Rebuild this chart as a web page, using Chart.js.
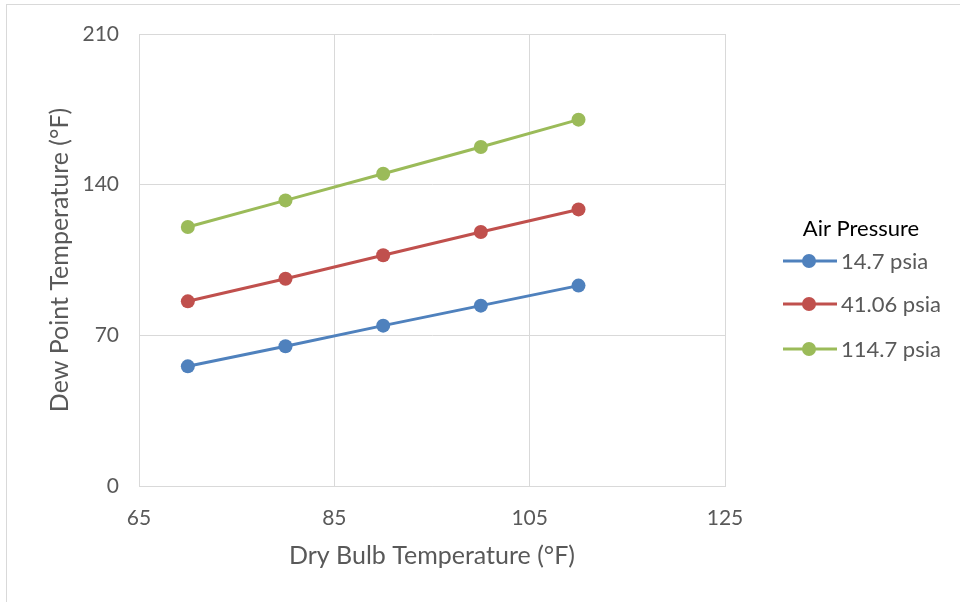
<!DOCTYPE html>
<html>
<head>
<meta charset="utf-8">
<script src="https://cdn.jsdelivr.net/npm/chart.js@4/dist/chart.umd.min.js"></script>
<style>
  body { margin: 0; background: #fff; }
  canvas { display: block; }
</style>
</head>
<body>
<canvas id="dewChart" width="960" height="602"></canvas>
<script>
// dry bulb temperatures (°F)
const dryBulb = [70, 80, 90, 100, 110];
// dew point temperatures (°F) per air pressure
const dew147 = [55.6, 64.9, 74.5, 83.8, 93.1];
const dew4106 = [85.8, 96.3, 107.2, 118.0, 128.5];
const dew1147 = [120.3, 132.7, 145.1, 157.5, 170.2];
const seriesNames = ['14.7 psia', '41.06 psia', '114.7 psia'];
const seriesColors = ['#4F81BD', '#C0504D', '#9BBB59'];
const legendTitle = 'Air Pressure';
const xTitle = 'Dry Bulb Temperature (°F)';
const yTitle = 'Dew Point Temperature (°F)';

const FONT = 'Lato';

function toPoints(ys) {
    return dryBulb.map((x, i) => ({ x: x, y: ys[i] }));
}

const datasets = [dew147, dew4106, dew1147].map((ys, i) => ({
    label: seriesNames[i],
    data: toPoints(ys),
    showLine: true,
    borderColor: seriesColors[i],
    backgroundColor: seriesColors[i],
    borderWidth: 3,
    pointRadius: 7,
    pointBorderWidth: 0,
    pointBackgroundColor: seriesColors[i]
}));

// white background + outer frame
const frame = {
    id: 'frame',
    beforeDraw(chart) {
        const ctx = chart.ctx;
        ctx.save();
        ctx.fillStyle = '#fff';
        ctx.fillRect(0, 0, chart.width, chart.height);
        ctx.strokeStyle = '#d9d9d9';
        ctx.lineWidth = 1;
        ctx.strokeRect(6.5, 4.5, 1200, 1000);
        ctx.restore();
    }
};

// excel-style legend: line with a dot in the middle
const sideLegend = {
    id: 'sideLegend',
    afterDraw(chart) {
        const ctx = chart.ctx;
        ctx.save();
        ctx.font = '22px ' + FONT;
        ctx.textBaseline = 'middle';
        ctx.textAlign = 'center';
        ctx.fillStyle = '#000';
        ctx.fillText(legendTitle, 861, 229);
        const rows = [261, 304, 349];
        chart.data.datasets.forEach((ds, i) => {
            const y = rows[i];
            ctx.strokeStyle = ds.borderColor;
            ctx.lineWidth = 3;
            ctx.beginPath();
            ctx.moveTo(783, y);
            ctx.lineTo(837, y);
            ctx.stroke();
            ctx.fillStyle = ds.borderColor;
            ctx.beginPath();
            ctx.arc(809, y, 7, 0, Math.PI * 2);
            ctx.fill();
            ctx.fillStyle = '#595959';
            ctx.textAlign = 'left';
            ctx.fillText(ds.label, 841, y + 1);
        });
        ctx.restore();
    }
};

new Chart(document.getElementById('dewChart'), {
    type: 'scatter',
    data: { datasets: datasets },
    options: {
        responsive: false,
        animation: false,
        layout: { padding: { top: 34, right: 235, left: 0, bottom: 0 } },
        plugins: {
            legend: { display: false },
            tooltip: { enabled: false }
        },
        scales: {
            x: {
                min: 65,
                max: 125,
                afterFit(scale) { scale.height = 116; },
                ticks: { stepSize: 20, color: '#595959', padding: 20, font: { family: FONT, size: 21 } },
                grid: { color: '#d9d9d9', drawTicks: false },
                border: { color: '#d9d9d9' },
                title: {
                    display: true,
                    text: xTitle,
                    color: '#595959',
                    font: { family: FONT, size: 25 },
                    padding: { bottom: 31 }
                }
            },
            y: {
                min: 0,
                max: 210,
                afterFit(scale) { scale.width = 139; },
                ticks: { stepSize: 70, color: '#595959', padding: 20, font: { family: FONT, size: 21 } },
                grid: { color: '#d9d9d9', drawTicks: false },
                border: { color: '#d9d9d9' },
                title: {
                    display: true,
                    text: yTitle,
                    color: '#595959',
                    font: { family: FONT, size: 25 },
                    padding: { top: 45 }
                }
            }
        }
    },
    plugins: [frame, sideLegend]
});
</script>
</body>
</html>
